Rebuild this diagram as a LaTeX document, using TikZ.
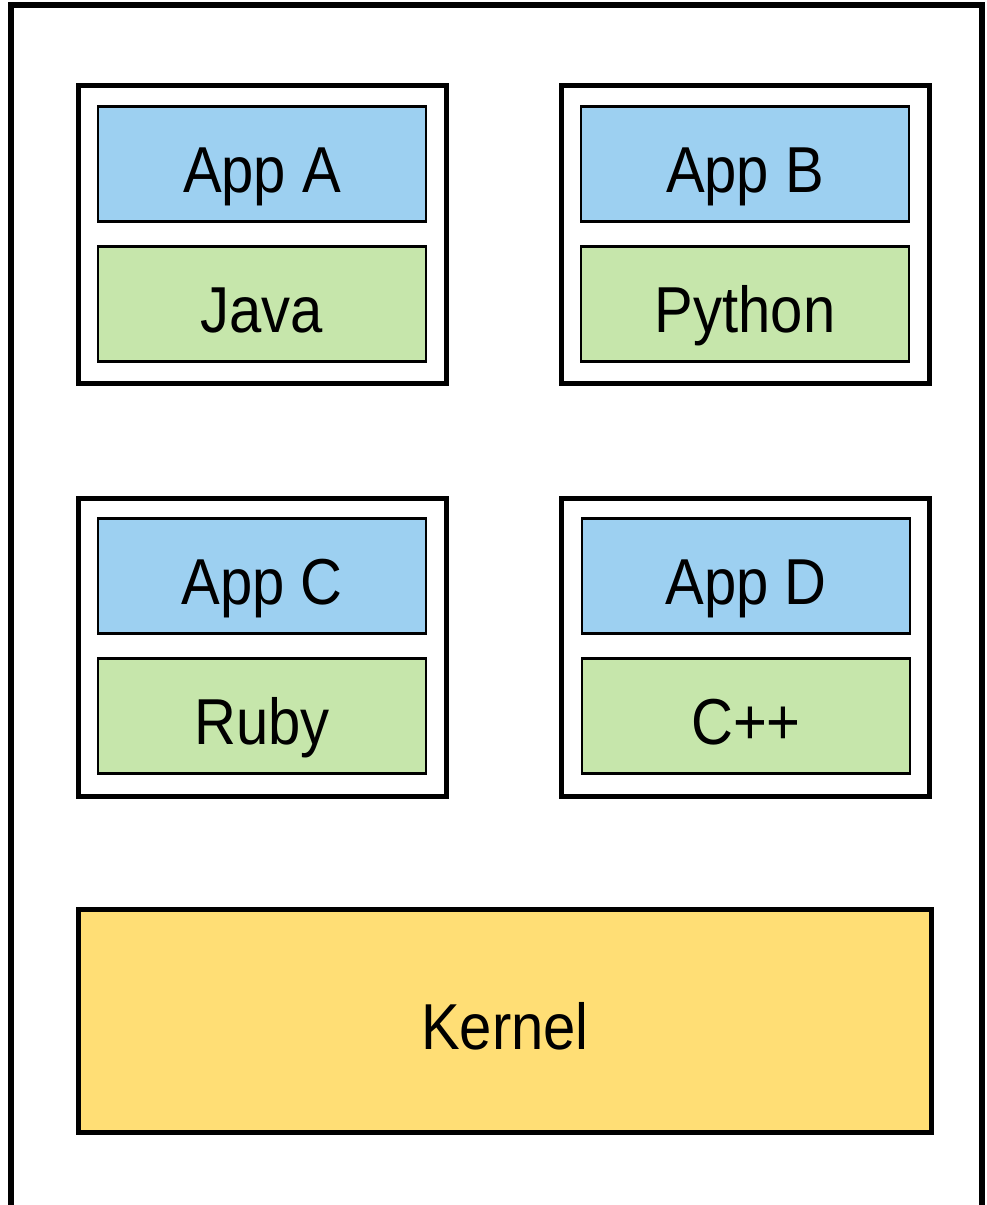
\documentclass[tikz,border=0pt]{standalone}
\usepackage{fontspec}
\setmainfont{Liberation Sans}
\definecolor{appblue}{RGB}{157,208,241}
\definecolor{rtgreen}{RGB}{198,230,171}
\definecolor{kernyellow}{RGB}{255,222,117}
% Slightly taller lettering than the plain font
\newcommand\tallstr[1]{\scalebox{1}[1.12]{#1}}
\tikzset{
  hostline/.style={draw=black, line width=6pt},
  container/.style={draw=black, line width=5pt, fill=white, rectangle,
    minimum width=368pt, minimum height=298pt, inner sep=0pt},
  layer/.style={draw=black, line width=2.5pt, rectangle, inner sep=0pt,
    minimum width=328pt, minimum height=115pt,
    text height=57pt, text depth=0pt, font=\fontsize{58}{60}\selectfont},
  appbox/.style={layer, fill=appblue},
  rtbox/.style={layer, fill=rtgreen},
  kernbox/.style={layer, fill=kernyellow, line width=5pt,
    minimum width=853pt, minimum height=223pt},
}
\begin{document}
\begin{tikzpicture}[x=1pt, y=-1pt]
  \useasboundingbox (0,0) rectangle (987,1205);
  \fill[white] (0,0) rectangle (987,1205);

  % host frame, open at the bottom
  \coordinate (hbl) at (11,1215);
  \coordinate (htl) at (11,5);
  \coordinate (htr) at (981.5,5);
  \coordinate (hbr) at (981.5,1215);
  \draw[hostline] (hbl) -- (htl) -- (htr) -- (hbr);

  % containers
  \node[container] (ca) at (262.5,234.5) {};
  \node[container] (cb) at (745.5,234.5) {};
  \node[container] (cc) at (262.5,647.5) {};
  \node[container] (cd) at (745.5,647.5) {};

  % applications and runtimes
  \node[appbox] (appa) at (262,164) {\tallstr{App A}};
  \node[rtbox]  (java) at (262,304) {\tallstr{Java}};
  \node[appbox] (appb) at (745,164) {\tallstr{App B}};
  \node[rtbox]  (python) at (745,304) {\tallstr{Python}};
  \node[appbox] (appc) at (262,576) {\tallstr{App C}};
  \node[rtbox]  (ruby) at (262,716) {\tallstr{Ruby}};
  \node[appbox] (appd) at (746,576) {\tallstr{App D}};
  \node[rtbox]  (cpp) at (746,716) {\tallstr{C++}};

  % shared kernel
  \node[kernbox] (kernel) at (505,1021) {\tallstr{Kernel}};
\end{tikzpicture}
\end{document}
